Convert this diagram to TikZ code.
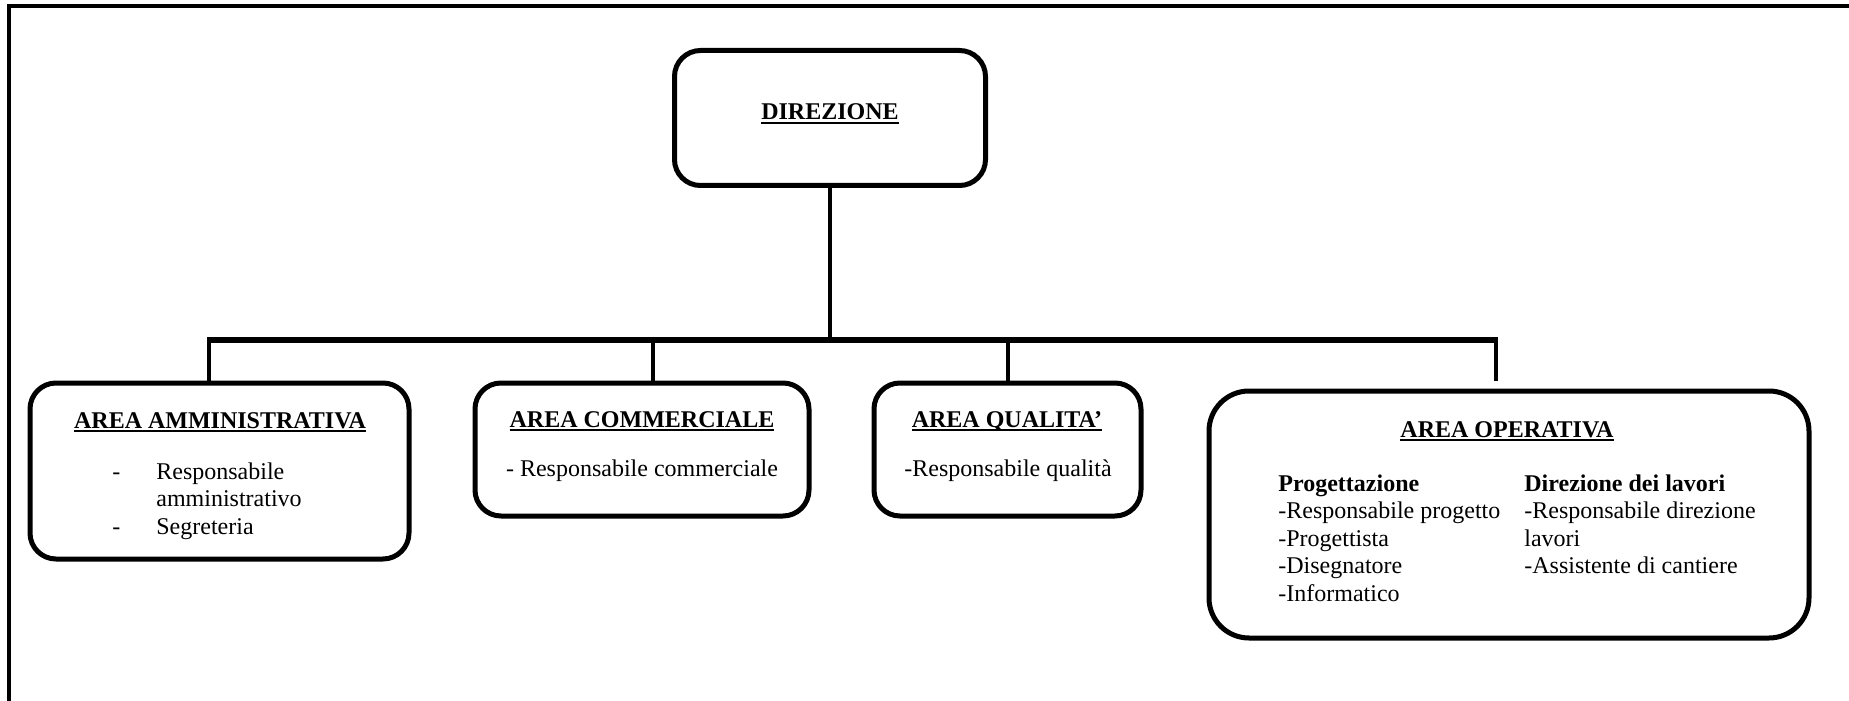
\documentclass[tikz,border=0pt]{standalone}
\usepackage{fontspec}
\setmainfont{Liberation Serif}
\newcommand\areaul[1]{\setbox0\hbox{#1}\leavevmode\rlap{\rule[-2pt]{\wd0}{1pt}}\box0}
\tikzset{
  area/.style={draw, line width=2.5pt, rounded corners=13pt, inner sep=0pt},
  title/.style={anchor=base, font=\bfseries},
  items/.style={anchor=base west, inner sep=0pt},
  link/.style={line width=2pt},
}
\begin{document}
\fontsize{12}{13.8}\selectfont
\begin{tikzpicture}[x=0.5pt, y=-0.5pt]
      \useasboundingbox (0,0) rectangle (1849,701);
      \draw[line width=1.75pt] (9,701) -- (9,6) -- (1849,6);
      \draw
        (830,118) node[area, minimum width=155.5pt, minimum height=67.5pt] (direz){}
        (219.5,471) node[area, minimum width=189.5pt, minimum height=88pt] (amm){}
        (642,449.5) node[area, minimum width=167pt, minimum height=66.5pt] (comm){}
        (1007.5,449.5) node[area, minimum width=133.5pt, minimum height=66.5pt] (qual){}
        (1509,514.5) node[area, rounded corners=20pt, minimum width=300pt, minimum height=123.5pt] (oper){};
      \draw
        (830,120) node[title] (direzt){\areaul{DIREZIONE}}
        (220,428) node[title] (ammt){\areaul{AREA AMMINISTRATIVA}}
        (642,427) node[title] (commt){\areaul{AREA COMMERCIALE}}
        (1007,427) node[title] (qualt){\areaul{AREA QUALITA'}}
        (1507,437) node[title] (opert){\areaul{AREA OPERATIVA}};
      \draw
        (112,479) node[items] (ammi){\begin{tabular}[t]{@{}l@{\hspace{18pt}}l@{}}
          - & Responsabile\\ & amministrativo\\ - & Segreteria\end{tabular}}
        (642,476) node[anchor=base] (commi){- Responsabile commerciale}
        (1008,476) node[anchor=base] (quali){-Responsabile qualità}
        (1278,491) node[items] (progi){\begin{tabular}[t]{@{}l@{}}
          \textbf{Progettazione}\\-Responsabile progetto\\-Progettista\\-Disegnatore\\-Informatico\end{tabular}}
        (1524,491) node[items] (dirli){\begin{tabular}[t]{@{}l@{}}
          \textbf{Direzione dei lavori}\\-Responsabile direzione\\lavori\\-Assistente di cantiere\end{tabular}};
      \coordinate (barl) at (207,340);
      \coordinate (barr) at (1498,340);
      \coordinate (d1) at (209,340);
      \coordinate (d2) at (653,340);
      \coordinate (d3) at (1008,340);
      \coordinate (d4) at (1496,340);
      \begin{scope}[link]
        \draw (direz.south) to (direz.south |- barl);
        \draw[line width=2.75pt] (barl) to (barr);
        \draw (d1) to (d1 |- amm.north);
        \draw (d2) to (d2 |- comm.north);
        \draw (d3) to (d3 |- qual.north);
        \draw (d4) to ([yshift=4pt]d4 |- oper.north);
      \end{scope}
    \end{tikzpicture}
\end{document}
